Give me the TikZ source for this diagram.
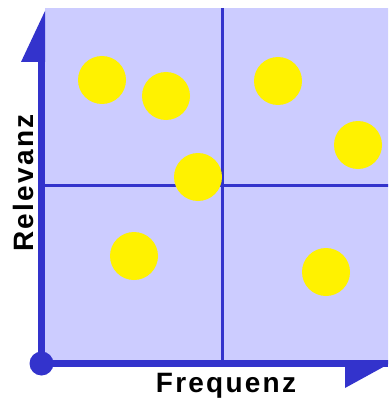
\documentclass[tikz,border=0pt]{standalone}
\usepackage{fontspec}
\newfontfamily\labelfont{Liberation Sans}[LetterSpace=8]
\definecolor{axisblue}{HTML}{3333CC}
\definecolor{panelfill}{HTML}{CCCCFF}

\begin{document}
\begin{tikzpicture}[x=1pt, y=-1pt,
  dot/.style={circle, fill=yellow, inner sep=0, minimum size=48pt},
  divider/.style={axisblue, line width=3pt},
  axis label/.style={font=\labelfont\bfseries\fontsize{28}{30}\selectfont, inner sep=0}]
\useasboundingbox (0,0) rectangle (388,401);
\clip (0,0) rectangle (388,401);
\fill[panelfill] (45,8) rectangle (396,360);
\draw[divider] (222,8) -- (222,360);
\draw[divider] (45,185) -- (396,185);
% axes
\coordinate (o) at (41.5,363.5);
\coordinate (ytip) at (45,11);
\coordinate (xtip) at (396,360);
\fill[axisblue] (38,62) rectangle (45,367);
\fill[axisblue] (38,360) rectangle (388,367);
\fill[axisblue] (ytip) -- (21,62) -- (45,62) -- cycle;
\fill[axisblue] (xtip) -- (345,388) -- (345,360) -- cycle;
\fill[axisblue] (o) circle (12pt);
% points
\foreach \n/\cx/\cy in {1/102/80, 2/166/96, 3/278/81, 4/358/145, 5/198/177, 6/134/256, 7/326/272}
  \node[dot] (p\n) at (\cx,\cy) {};
\node[axis label, anchor=base] (xlabel) at (226,392) {Frequenz};
\node[axis label, anchor=base, rotate=90] (ylabel) at (33,183) {Relevanz};
\end{tikzpicture}
\end{document}
